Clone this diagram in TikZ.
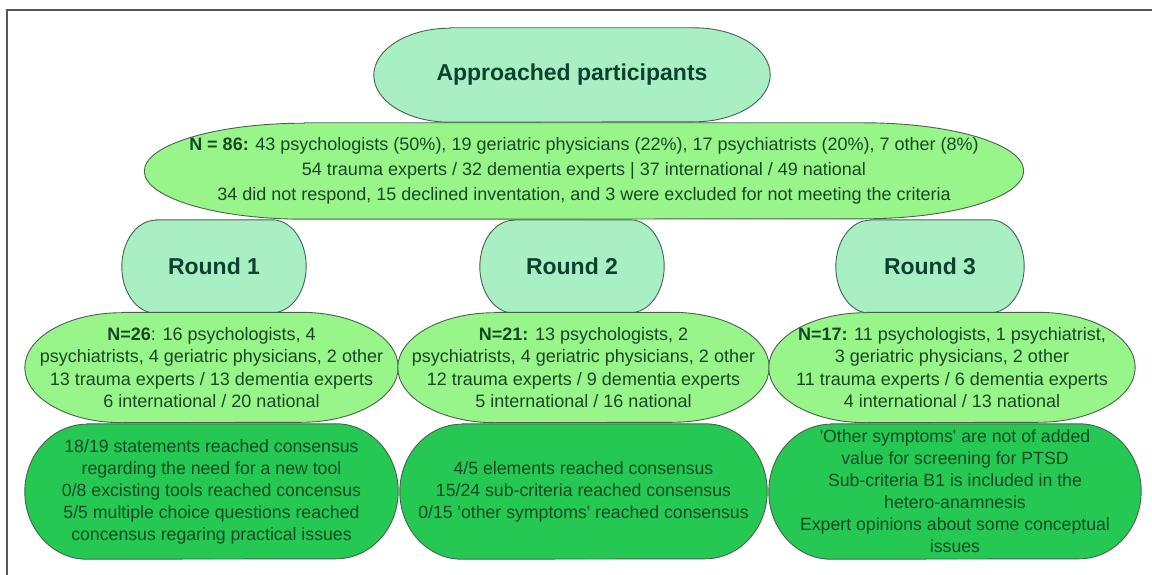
\documentclass[tikz,border=0pt]{standalone}
\usepackage{fontspec}
\setmainfont{Liberation Sans}
\usetikzlibrary{positioning}
\usetikzlibrary{backgrounds}
\definecolor{mint}{RGB}{168,240,196}
\definecolor{lime}{RGB}{152,245,138}
\definecolor{leaf}{RGB}{38,200,84}
\definecolor{rim}{RGB}{72,98,78}
\definecolor{ink}{RGB}{12,66,44}
\definecolor{body}{RGB}{22,72,34}
\definecolor{framegray}{RGB}{88,88,88}

% outline with elliptic ends behind a node
\newcommand{\capsule}[4]{%
  \draw[rim, fill=#4, line width=0.9] ([xshift=#2pt]#1.north west) -- ([xshift=-#2pt]#1.north east)
    arc[start angle=90, end angle=-90, x radius=#2pt, y radius=#3pt]
    -- ([xshift=#2pt]#1.south west)
    arc[start angle=270, end angle=90, x radius=#2pt, y radius=#3pt] -- cycle;}
\newcommand{\sq}{\textquotesingle}

\tikzset{
  headbox/.style={rectangle, inner sep=0pt, text=ink,
    font=\bfseries\fontsize{23}{27}\selectfont},
  infobox/.style={rectangle, align=center, text=body, inner sep=0pt,
    font=\fontsize{18}{22.5}\selectfont},
  resultbox/.style={rectangle, text=body, align=center, inner sep=0pt,
    font=\fontsize{17.7}{22}\selectfont}
}

\begin{document}
\begin{tikzpicture}[x=1pt, y=-1pt]
  \useasboundingbox (0,0) rectangle (1152,575);
  \draw[framegray, line width=2] (7,575) -- (7,10) -- (1152,10);

  % approached participants
  \node[headbox, minimum width=396, minimum height=94] (app) at (572,75) {Approached participants};
  \node[infobox, minimum width=879, minimum height=96, font=\fontsize{18}{25}\selectfont] (all) at (584,171) {\textbf{N = 86:} 43 psychologists (50\%), 19 geriatric physicians (22\%), 17 psychiatrists (20\%), 7 other (8\%)\\
    54 trauma experts / 32 dementia experts | 37 international / 49 national\\
    34 did not respond, 15 declined inventation, and 3 were excluded for not meeting the criteria};
  \begin{scope}[on background layer]
    \capsule{app}{76}{47}{mint}
    \capsule{all}{160}{48}{lime}
  \end{scope}

  % rounds
  \node[headbox, minimum width=184, minimum height=93] (r1) at (214,266.5) {Round 1};
  \node[headbox, minimum width=184, minimum height=93] (r2) at (572,266.5) {Round 2};
  \node[headbox, minimum width=188, minimum height=93] (r3) at (930,266.5) {Round 3};
  \begin{scope}[on background layer]
    \capsule{r1}{34}{46.5}{mint}
    \capsule{r2}{34}{46.5}{mint}
    \capsule{r3}{34}{46.5}{mint}
  \end{scope}

  % panel per round
  \node[infobox, minimum width=373, minimum height=110] (p1) at (211.5,367.5) {\textbf{N=26}: 16 psychologists, 4\\
    psychiatrists, 4 geriatric physicians, 2 other\\
    13 trauma experts / 13 dementia experts\\
    6 international / 20 national};
  \node[infobox, minimum width=371, minimum height=110] (p2) at (583.5,367.5) {\textbf{N=21:} 13 psychologists, 2\\
    psychiatrists, 4 geriatric physicians, 2 other\\
    12 trauma experts / 9 dementia experts\\
    5 international / 16 national};
  \node[infobox, minimum width=366, minimum height=110] (p3) at (952,367.5) {\textbf{N=17:} 11 psychologists, 1 psychiatrist,\\
    3 geriatric physicians, 2 other\\
    11 trauma experts / 6 dementia experts\\
    4 international / 13 national};
  \begin{scope}[on background layer]
    \capsule{p1}{97}{55}{lime}
    \capsule{p2}{97}{55}{lime}
    \capsule{p3}{97}{55}{lime}
  \end{scope}

  % outcomes
  \node[resultbox, minimum width=373, minimum height=135] (o1) at (211.5,491.5) {18/19 statements reached consensus\\
    regarding the need for a new tool\\
    0/8 excisting tools reached concensus\\
    5/5 multiple choice questions reached\\
    concensus regaring practical issues};
  \node[resultbox, minimum width=367, minimum height=135] (o2) at (583.5,491.5) {4/5 elements reached consensus\\
    15/24 sub-criteria reached consensus\\
    0/15 \sq other symptoms\sq{} reached consensus};
  \node[resultbox, minimum width=372, minimum height=135] (o3) at (955,491.5) {\sq Other symptoms\sq{} are not of added\\
    value for screening for PTSD\\
    Sub-criteria B1 is included in the\\
    hetero-anamnesis\\
    Expert opinions about some conceptual\\
    issues};
  \begin{scope}[on background layer]
    \capsule{o1}{62}{67.5}{leaf}
    \capsule{o2}{62}{67.5}{leaf}
    \capsule{o3}{62}{67.5}{leaf}
  \end{scope}
\end{tikzpicture}
\end{document}
